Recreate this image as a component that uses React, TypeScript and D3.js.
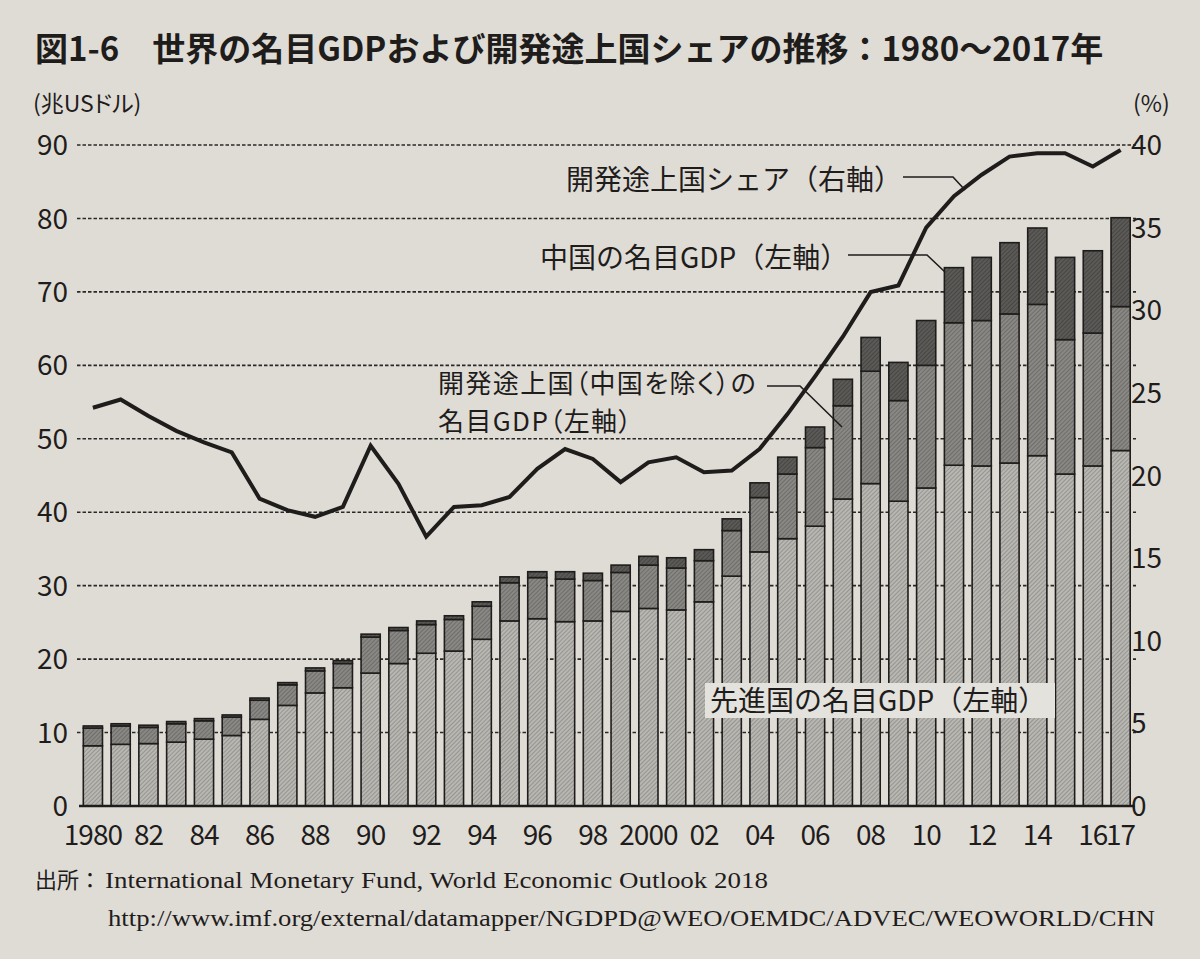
import React, { useEffect, useRef } from 'react';
import * as d3 from 'd3';

const years = d3.range(1980, 2018);

// 先進国 (advanced economies), 兆USドル
const advanced = [
  8.2, 8.4, 8.5, 8.7, 9.1, 9.6, 11.8, 13.7, 15.4, 16.1,
  18.1, 19.4, 20.8, 21.1, 22.7, 25.2, 25.5, 25.1, 25.2, 26.5,
  26.9, 26.7, 27.8, 31.3, 34.6, 36.4, 38.1, 41.8, 43.9, 41.5,
  43.3, 46.4, 46.3, 46.7, 47.7, 45.2, 46.3, 48.4,
];
// 開発途上国（中国を除く）
const developingExChina = [
  2.4, 2.5, 2.2, 2.5, 2.5, 2.5, 2.6, 2.8, 3.0, 3.3,
  4.9, 4.5, 3.9, 4.3, 4.5, 5.2, 5.6, 5.8, 5.5, 5.3,
  5.9, 5.7, 5.6, 6.2, 7.4, 8.8, 10.7, 12.7, 15.3, 13.7,
  16.7, 19.4, 19.8, 20.3, 20.6, 18.3, 18.1, 19.6,
];
// 中国
const china = [
  0.3, 0.3, 0.3, 0.3, 0.3, 0.3, 0.3, 0.3, 0.4, 0.4,
  0.4, 0.4, 0.5, 0.5, 0.6, 0.8, 0.8, 1.0, 1.0, 1.0,
  1.2, 1.4, 1.5, 1.6, 2.0, 2.3, 2.8, 3.6, 4.6, 5.2,
  6.1, 7.5, 8.6, 9.7, 10.4, 11.2, 11.2, 12.1,
];
// 開発途上国シェア (%), right axis
const developingShare = [
  24.1, 24.6, 23.6, 22.7, 22.0, 21.4, 18.6, 17.9, 17.5, 18.1,
  21.8, 19.5, 16.3, 18.1, 18.2, 18.7, 20.4, 21.6, 21.0, 19.6,
  20.8, 21.1, 20.2, 20.3, 21.6, 23.7, 26.0, 28.4, 31.1, 31.5,
  35.0, 36.9, 38.2, 39.3, 39.5, 39.5, 38.7, 39.7,
];

const leftTicks = [0, 10, 20, 30, 40, 50, 60, 70, 80, 90];
const rightTicks = [0, 5, 10, 15, 20, 25, 30, 35, 40];
const labelYears = years.filter(y => y % 2 === 0 || y === 2017);

const seriesKeys = ['advanced', 'devExChina', 'china'];

const FONT = '"Noto Sans CJK JP", "Noto Sans", sans-serif';
const INK = '#1f1d1c';

const App: React.FC = () => {
  const ref = useRef<SVGSVGElement | null>(null);

  useEffect(() => {
    const width = 1200;
    const height = 959;
    const svg = d3.select(ref.current);
    svg.selectAll('*').remove();
    svg.attr('width', width).attr('height', height);

    svg.append('rect').attr('width', width).attr('height', height).attr('fill', '#dfdcd6');

    // hatch textures for the three segments
    const defs = svg.append('defs');
    const hatch = (id: string, base: string, line: string) => {
      const p = defs.append('pattern')
        .attr('id', id)
        .attr('patternUnits', 'userSpaceOnUse')
        .attr('width', 3)
        .attr('height', 3)
        .attr('patternTransform', 'rotate(45)');
      p.append('rect').attr('width', 3).attr('height', 3).attr('fill', base);
      p.append('line').attr('x1', 0).attr('y1', 0).attr('x2', 0).attr('y2', 3)
        .attr('stroke', line).attr('stroke-width', 1.2);
    };
    hatch('pat-adv', '#b9b7b2', '#7f7d79');
    hatch('pat-dev', '#8a8884', '#5c5a57');
    hatch('pat-chn', '#5c5a57', '#3a3836');
    const fills: Record<string, string> = {
      advanced: 'url(#pat-adv)',
      devExChina: 'url(#pat-dev)',
      china: 'url(#pat-chn)',
    };

    const x = d3.scaleBand<number>()
      .domain(years)
      .range([79, 1134.5])
      .paddingInner(0.31)
      .paddingOuter(0.155);
    const yL = d3.scaleLinear().domain([0, 90]).range([806, 145]);
    const yR = d3.scaleLinear().domain([0, 40]).range([806, 145]);

    // dotted grid lines
    svg.append('g')
      .selectAll('line')
      .data(leftTicks.filter(t => t > 0))
      .enter().append('line')
      .attr('x1', 77)
      .attr('x2', 1136)
      .attr('y1', d => yL(d))
      .attr('y2', d => yL(d))
      .attr('stroke', '#2a2826')
      .attr('stroke-width', 1.6)
      .attr('stroke-dasharray', '3.5,2');

    // stacked bars
    const rows = years.map((yr, i) => ({
      year: yr,
      advanced: advanced[i],
      devExChina: developingExChina[i],
      china: china[i],
    }));
    const stack = d3.stack<any>().keys(seriesKeys)(rows);

    svg.append('g')
      .selectAll('g')
      .data(stack)
      .enter().append('g')
      .attr('fill', d => fills[d.key])
      .selectAll('rect')
      .data(d => d)
      .enter().append('rect')
      .attr('x', d => x(d.data.year)!)
      .attr('width', x.bandwidth())
      .attr('y', d => yL(d[1]))
      .attr('height', d => yL(d[0]) - yL(d[1]))
      .attr('stroke', INK)
      .attr('stroke-width', 1.6);

    // baseline
    svg.append('line')
      .attr('x1', 79).attr('x2', 1135)
      .attr('y1', yL(0)).attr('y2', yL(0))
      .attr('stroke', INK).attr('stroke-width', 2.5);

    // share line
    const line = d3.line<number>()
      .x((_, i) => x(years[i])! + x.bandwidth() / 2)
      .y(d => yR(d));
    svg.append('path')
      .datum(developingShare)
      .attr('d', line)
      .attr('fill', 'none')
      .attr('stroke', INK)
      .attr('stroke-width', 4)
      .attr('stroke-linejoin', 'miter');

    // axis labels
    svg.append('g')
      .selectAll('text')
      .data(leftTicks)
      .enter().append('text')
      .attr('x', 68)
      .attr('y', d => yL(d))
      .attr('dy', '0.36em')
      .attr('text-anchor', 'end')
      .style('font-family', FONT)
      .style('font-size', '28px')
      .attr('fill', INK)
      .text(d => d);

    svg.append('g')
      .selectAll('text')
      .data(rightTicks)
      .enter().append('text')
      .attr('x', 1131)
      .attr('y', d => yR(d))
      .attr('dy', '0.36em')
      .attr('text-anchor', 'start')
      .style('font-family', FONT)
      .style('font-size', '28px')
      .attr('fill', INK)
      .text(d => d);

    svg.append('g')
      .selectAll('text')
      .data(labelYears)
      .enter().append('text')
      .attr('x', d => x(d)! + x.bandwidth() / 2)
      .attr('y', 845)
      .attr('text-anchor', 'middle')
      .style('font-family', FONT)
      .style('font-size', '28px')
      .style('letter-spacing', '-1px')
      .attr('fill', INK)
      .text(d => (d === 1980 || d === 2000 ? String(d) : String(d).slice(2)));

    const txt = (s: string, tx: number, ty: number, size: number, opts: { weight?: number; palt?: boolean; spacing?: number } = {}) =>
      svg.append('text')
        .attr('x', tx)
        .attr('y', ty)
        .style('font-family', FONT)
        .style('font-size', `${size}px`)
        .style('font-weight', opts.weight || 400)
        .style('font-feature-settings', opts.palt ? '"palt"' : 'normal')
        .style('letter-spacing', `${opts.spacing || 0}px`)
        .attr('fill', INK)
        .text(s);

    // title and units
    txt('図1-6　世界の名目GDPおよび開発途上国シェアの推移：1980～2017年', 35, 61, 33, { weight: 700 });
    txt('(兆USドル)', 33, 112, 23, { palt: true });
    txt('(%)', 1133, 112, 23);

    // annotations
    txt('開発途上国シェア（右軸）', 566, 190, 28);
    txt('中国の名目GDP（左軸）', 540, 268, 28);
    txt('開発途上国（中国を除く）の', 438, 393, 26, { palt: true, spacing: 1.4 });
    txt('名目GDP（左軸）', 438, 431, 26, { palt: true, spacing: 1.4 });

    svg.append('rect')
      .attr('x', 705).attr('y', 683).attr('width', 350).attr('height', 35)
      .attr('fill', '#e4e2dd');
    txt('先進国の名目GDP（左軸）', 710, 711, 28);

    const leader = (pts: [number, number][]) =>
      svg.append('path')
        .attr('d', d3.line()(pts))
        .attr('fill', 'none')
        .attr('stroke', INK)
        .attr('stroke-width', 1.6);
    leader([[903, 177], [953, 177], [965, 190]]);
    leader([[848, 255], [927, 255], [945, 272]]);
    leader([[767, 386], [800, 386], [842, 427]]);

    // source
    const serif = '"Liberation Serif", "DejaVu Serif", serif';
    svg.append('text')
      .attr('x', 35).attr('y', 888)
      .style('font-family', FONT).style('font-size', '22px')
      .attr('fill', INK)
      .text('出所：');
    svg.append('text')
      .attr('x', 105).attr('y', 888)
      .attr('textLength', 663)
      .attr('lengthAdjust', 'spacingAndGlyphs')
      .style('font-family', serif).style('font-size', '24px')
      .attr('fill', INK)
      .text('International Monetary Fund, World Economic Outlook 2018');
    svg.append('text')
      .attr('x', 108).attr('y', 926)
      .attr('textLength', 1047)
      .attr('lengthAdjust', 'spacingAndGlyphs')
      .style('font-family', serif).style('font-size', '24px')
      .attr('fill', INK)
      .text('http://www.imf.org/external/datamapper/NGDPD@WEO/OEMDC/ADVEC/WEOWORLD/CHN');
  }, []);

  return (
    <svg ref={ref} style={{ position: 'absolute', left: 0, top: 0, display: 'block' }} />
  );
};

export default App;
